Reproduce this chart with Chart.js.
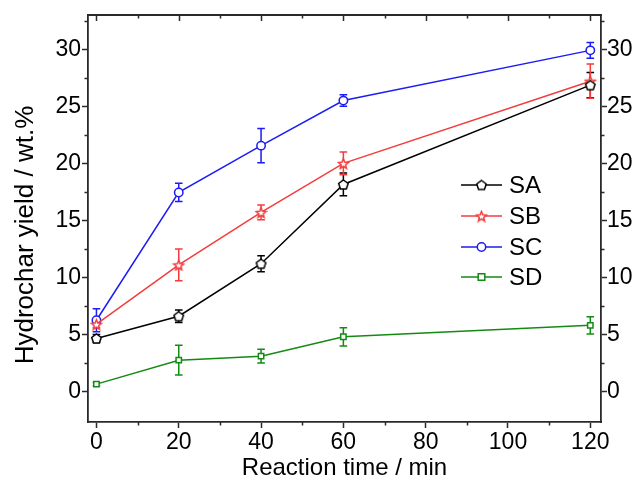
<!DOCTYPE html>
<html>
<head>
<meta charset="utf-8">
<script src="https://cdn.jsdelivr.net/npm/chart.js@4.4.1/dist/chart.umd.min.js"></script>
<style>
  body { margin: 0; background: #fff; }
  canvas { display: block; }
</style>
</head>
<body>
<canvas id="chart" width="636" height="486"></canvas>
<script>
// data
const times = [0, 20, 40, 60, 120];
const seriesNames = ['SA', 'SB', 'SC', 'SD'];
const saYield = [4.65, 6.6, 11.2, 18.15, 26.85];
const saErr = [0.35, 0.55, 0.7, 1.0, 1.1];
const sbYield = [5.9, 11.1, 15.7, 20.0, 27.2];
const sbErr = [0.3, 1.4, 0.65, 1.0, 1.5];
const scYield = [6.25, 17.45, 21.55, 25.5, 29.9];
const scErr = [1.0, 0.8, 1.5, 0.5, 0.7];
const sdYield = [0.65, 2.75, 3.1, 4.8, 5.8];
const sdErr = [0.15, 1.3, 0.6, 0.8, 0.75];
const xTicks = [0, 20, 40, 60, 80, 100, 120];
const yTicks = [0, 5, 10, 15, 20, 25, 30];

const AXIS = '#2a2a2a';
const FONT = "'Liberation Sans', Arial, sans-serif";

// marker images for shapes Chart.js doesn't have
function polyMarker(color, pts, size) {
  const c = document.createElement('canvas');
  c.width = size; c.height = size;
  const g = c.getContext('2d');
  g.beginPath();
  pts.forEach((p, i) => i ? g.lineTo(p[0], p[1]) : g.moveTo(p[0], p[1]));
  g.closePath();
  g.fillStyle = '#fff';
  g.fill();
  g.lineWidth = 1.5;
  g.strokeStyle = color;
  g.stroke();
  return c;
}
function pentagon(color) {
  const s = 13, r = 5, pts = [];
  for (let i = 0; i < 5; i++) {
    const a = -Math.PI / 2 + i * 2 * Math.PI / 5;
    pts.push([s / 2 + r * Math.cos(a), s / 2 + 0.5 + r * Math.sin(a)]);
  }
  return polyMarker(color, pts, s);
}
function star(color) {
  const s = 13, ro = 5.2, ri = 2.3, pts = [];
  for (let i = 0; i < 10; i++) {
    const a = -Math.PI / 2 + i * Math.PI / 5;
    const r = i % 2 ? ri : ro;
    pts.push([s / 2 + r * Math.cos(a), s / 2 + 0.7 + r * Math.sin(a)]);
  }
  return polyMarker(color, pts, s);
}

const colors = ['#000000', '#f53b3b', '#1c1cf5', '#138a13'];
const styles = [pentagon(colors[0]), star(colors[1]), 'circle', 'rect'];
const yields = [saYield, sbYield, scYield, sdYield];
const errs = [saErr, sbErr, scErr, sdErr];

const datasets = seriesNames.map((name, i) => ({
  label: name,
  data: times.map((t, j) => ({ x: t, y: yields[i][j] })),
  borderColor: colors[i],
  backgroundColor: '#fff',
  borderWidth: 1.5,
  pointStyle: styles[i],
  pointRadius: i === 3 ? 3.8 : 4.2,
  pointBorderWidth: 1.5,
  pointBorderColor: colors[i],
  pointBackgroundColor: '#fff',
  tension: 0,
  errors: errs[i]
}));

// error bars, minor ticks, top frame, y title, legend
const extras = {
  id: 'extras',
  beforeDatasetsDraw(chart) {
    const ctx = chart.ctx, xs = chart.scales.x, ys = chart.scales.y;
    ctx.save();
    ctx.lineWidth = 1.5;
    chart.data.datasets.forEach(ds => {
      ctx.strokeStyle = ds.borderColor;
      ds.data.forEach((p, j) => {
        const e = ds.errors[j];
        const px = xs.getPixelForValue(p.x);
        const top = ys.getPixelForValue(p.y + e);
        const bot = ys.getPixelForValue(p.y - e);
        ctx.beginPath();
        ctx.moveTo(px, top); ctx.lineTo(px, bot);
        ctx.moveTo(px - 3.8, top); ctx.lineTo(px + 3.8, top);
        ctx.moveTo(px - 3.8, bot); ctx.lineTo(px + 3.8, bot);
        ctx.stroke();
      });
    });
    ctx.restore();
  },
  afterDraw(chart) {
    const ctx = chart.ctx, a = chart.chartArea;
    const xs = chart.scales.x, ys = chart.scales.y;
    ctx.save();
    ctx.strokeStyle = AXIS;
    ctx.lineWidth = 1.8;
    // top frame line
    ctx.beginPath();
    ctx.moveTo(a.left - 0.9, a.top); ctx.lineTo(a.right + 0.9, a.top);
    ctx.stroke();
    ctx.lineWidth = 1.5;
    // x minor ticks (bottom, outward) and top ticks (inward)
    ctx.beginPath();
    for (let v = 0; v <= 120; v += 10) {
      const px = Math.round(xs.getPixelForValue(v)) + 0.5;
      const major = v % 20 === 0;
      if (!major) { ctx.moveTo(px, a.bottom); ctx.lineTo(px, a.bottom + 3.5); }
      ctx.moveTo(px, a.top); ctx.lineTo(px, a.top + (major ? 6 : 3.5));
    }
    // y minor ticks on both sides, outward
    for (let v = 2.5; v <= 32.5; v += 5) {
      const py = Math.round(ys.getPixelForValue(v)) + 0.5;
      ctx.moveTo(a.left, py); ctx.lineTo(a.left - 3.5, py);
      ctx.moveTo(a.right, py); ctx.lineTo(a.right + 3.5, py);
    }
    ctx.stroke();

    // y axis title
    ctx.fillStyle = '#000';
    ctx.font = '26px ' + FONT;
    ctx.textAlign = 'center';
    ctx.textBaseline = 'alphabetic';
    ctx.save();
    ctx.translate(33, 235);
    ctx.rotate(-Math.PI / 2);
    ctx.fillText('Hydrochar yield / wt.%', 0, 0);
    ctx.restore();

    // legend inside plot
    const lx = 461, lw = 41, rows = [185, 216, 247, 277];
    chart.data.datasets.forEach((ds, i) => {
      const y = rows[i];
      ctx.strokeStyle = ds.borderColor;
      ctx.lineWidth = 1.5;
      ctx.beginPath();
      ctx.moveTo(lx, y); ctx.lineTo(lx + lw, y);
      ctx.stroke();
      const cx = lx + lw / 2;
      if (ds.pointStyle instanceof HTMLCanvasElement) {
        const im = ds.pointStyle;
        ctx.drawImage(im, cx - im.width / 2, y - im.height / 2);
      } else {
        ctx.fillStyle = '#fff';
        ctx.beginPath();
        if (ds.pointStyle === 'circle') {
          ctx.arc(cx, y, 4.2, 0, Math.PI * 2);
        } else {
          ctx.rect(cx - 3.3, y - 3.3, 6.6, 6.6);
        }
        ctx.fill(); ctx.stroke();
      }
      ctx.fillStyle = '#000';
      ctx.font = '24px ' + FONT;
      ctx.textBaseline = 'middle';
      ctx.textAlign = 'left';
      ctx.fillText(ds.label, 509, y + 1);
    });
    ctx.restore();
  }
};

const tickFont = { family: FONT, size: 23 };
const titleFont = { family: FONT, size: 24 };

new Chart(document.getElementById('chart'), {
  type: 'line',
  data: { datasets },
  plugins: [extras],
  options: {
    responsive: false,
    animation: false,
    devicePixelRatio: 1,
    layout: { padding: { top: 15, left: 0, right: 0, bottom: 0 } },
    plugins: { legend: { display: false }, tooltip: { enabled: false } },
    scales: {
      x: {
        type: 'linear',
        min: -2.05,
        max: 122.6,
        afterBuildTicks: s => { s.ticks = xTicks.map(v => ({ value: v })); },
        afterFit: s => { s.height = 64; },
        border: { display: true, color: AXIS, width: 1.8 },
        grid: { drawOnChartArea: false, drawTicks: true, tickLength: 6, color: AXIS, tickWidth: 1.5 },
        ticks: { color: '#000', font: tickFont, padding: 1, maxRotation: 0, autoSkip: false },
        title: { display: true, text: 'Reaction time / min', color: '#000', font: titleFont, padding: { top: 0, bottom: 3 } }
      },
      y: {
        type: 'linear',
        position: 'left',
        min: -2.67,
        max: 33.0,
        afterBuildTicks: s => { s.ticks = yTicks.map(v => ({ value: v })); },
        afterFit: s => { s.width = 88; },
        border: { display: true, color: AXIS, width: 1.8 },
        grid: { drawOnChartArea: false, drawTicks: true, tickLength: 6, color: AXIS, tickWidth: 1.5 },
        ticks: { color: '#000', font: tickFont, padding: 1 }
      },
      y2: {
        type: 'linear',
        position: 'right',
        min: -2.67,
        max: 33.0,
        afterBuildTicks: s => { s.ticks = yTicks.map(v => ({ value: v })); },
        afterFit: s => { s.width = 35; },
        border: { display: true, color: AXIS, width: 1.8 },
        grid: { drawOnChartArea: false, drawTicks: true, tickLength: 6, color: AXIS, tickWidth: 1.5 },
        ticks: { color: '#000', font: tickFont, padding: 0 }
      }
    }
  }
});
</script>
</body>
</html>
